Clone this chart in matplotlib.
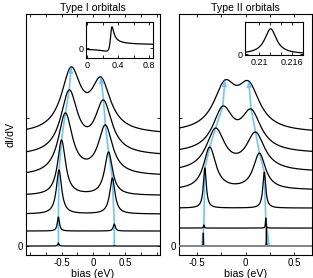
import numpy as np
import matplotlib.pyplot as plt
from matplotlib.ticker import FixedLocator, FixedFormatter

plt.rcParams['font.family'] = ['Liberation Sans', 'DejaVu Sans']

# Each panel: curves listed from the bottom (narrow levels) to the top (broad).
# Two resonances per curve: position (eV), half width (eV), peak height (arb.)
t1_offset = [0, 0.94, 2.0, 3.16, 4.38, 5.63, 6.97]
t1_pos_lo = [-0.55, -0.55, -0.54, -0.50, -0.44, -0.38, -0.35]
t1_pos_hi = [0.33, 0.33, 0.30, 0.24, 0.19, 0.16, 0.12]
t1_width = [0.012, 0.02, 0.05, 0.075, 0.135, 0.16, 0.185]
t1_height_lo = [0.19, 0.875, 2.75, 3.47, 3.94, 4.13, 4.22]
t1_height_hi = [0.02, 0.44, 2.25, 2.72, 3.19, 3.5, 3.59]
t1_blue_start = [-0.55, 0.33]

t2_offset = [0, 1.125, 2.375, 3.5, 4.625, 5.78, 7.06]
t2_pos_lo = [-0.435, -0.43, -0.42, -0.37, -0.31, -0.235, -0.215]
t2_pos_hi = [0.212, 0.205, 0.19, 0.14, 0.10, 0.055, 0.03]
t2_width = [0.0013, 0.004, 0.018, 0.075, 0.115, 0.125, 0.14]
t2_height_lo = [0.81, 0.19, 2.5, 2.69, 2.75, 2.97, 3.31]
t2_height_hi = [1.25, 0.625, 2.25, 2.31, 2.5, 2.78, 3.25]
t2_blue_start = [-0.45, 0.24]

# insets: close up of the lowest curve's resonance
inset1_pos, inset1_width, inset1_q, inset1_step = 0.31, 0.025, 2.5, 0.18
inset2_pos, inset2_width = 0.2121, 0.0013

BLUE = '#74c3f5'


def lorentz(x, pos, width):
    return width**2 / ((np.asarray(x) - pos)**2 + width**2)


def spectrum(x, pos, width, heights):
    # scale both lorentzians so the sum reaches the read heights at the peaks
    cross = lorentz(pos[0], pos[1], width)
    amp = np.linalg.solve([[1, cross], [cross, 1]], heights)
    return amp[0]*lorentz(x, pos[0], width) + amp[1]*lorentz(x, pos[1], width)


def style(ax, size=7):
    ax.tick_params(direction='in', top=True, right=True, length=2.5,
                   width=0.6, labelsize=size, pad=2)
    for s in ax.spines.values():
        s.set_linewidth(0.8)


def draw_panel(ax, xlim, offset, pos_lo, pos_hi, width, h_lo, h_hi, start):
    grid = np.linspace(xlim[0], xlim[1], 3000)
    for i in range(len(offset)):
        pos = [pos_lo[i], pos_hi[i]]
        local = [p + width[i]*np.linspace(-30, 30, 601) for p in pos]
        x = np.sort(np.concatenate([grid] + local))
        x = x[(x >= xlim[0]) & (x <= xlim[1])]
        y = offset[i] + spectrum(x, pos, width[i], [h_lo[i], h_hi[i]])
        ax.plot(x, y, color='k', lw=0.9, zorder=3)
    for j, (pos, h) in enumerate([(pos_lo, h_lo), (pos_hi, h_hi)]):
        bx = [start[j]] + list(pos[1:])
        by = [offset[0]] + [o + hh for o, hh in zip(offset[1:], h[1:])]
        ax.plot(bx, by, color=BLUE, lw=1.2, zorder=2)
        ax.annotate('', xy=(bx[-1], by[-1]), xytext=(bx[-2], by[-2]),
                    arrowprops=dict(arrowstyle='-|>,head_length=0.5,head_width=0.2',
                                    color=BLUE, lw=0, shrinkA=0, shrinkB=0),
                    zorder=5)
    ax.set_xlim(xlim)
    ax.set_ylim(-0.56, 14.5)
    ax.xaxis.set_major_locator(FixedLocator(np.arange(-1.0, 1.01, 0.25)))
    labels = {-0.5: '-0.5', 0.0: '0', 0.5: '0.5'}
    ax.xaxis.set_major_formatter(FixedFormatter(
        [labels.get(round(v, 2), '') for v in np.arange(-1.0, 1.01, 0.25)]))
    ax.set_yticks([0, 8])
    ax.set_yticklabels(['0', ''])
    ax.set_xlabel('bias (eV)', fontsize=7.7, labelpad=1)
    style(ax)


fig = plt.figure(figsize=(3.13, 2.78), dpi=100)
ax1 = fig.add_axes([0.0831, 0.0827, 0.428, 0.867])
ax2 = fig.add_axes([0.5719, 0.0827, 0.425, 0.867])

draw_panel(ax1, (-1.06, 1.05), t1_offset, t1_pos_lo, t1_pos_hi, t1_width,
           t1_height_lo, t1_height_hi, t1_blue_start)
draw_panel(ax2, (-0.685, 0.68), t2_offset, t2_pos_lo, t2_pos_hi, t2_width,
           t2_height_lo, t2_height_hi, t2_blue_start)
ax2.axhline(0, color='0.55', lw=1.3, zorder=4)

ax1.set_title('Type I orbitals', fontsize=7.6, pad=2)
ax2.set_title('Type II orbitals', fontsize=7.6, pad=2)
ax1.set_ylabel('dI/dV', fontsize=7.7, labelpad=2)

# inset 1: Fano-like resonance on a small step
in1 = fig.add_axes([0.2748, 0.790, 0.213, 0.1317])
xf = np.linspace(-0.02, 0.85, 2000)
e = (xf - inset1_pos) / inset1_width
fano = ((inset1_q + e)**2 / (1 + e**2) - 1) / inset1_q**2
fano = fano + inset1_step*(0.5 + np.arctan(e)/np.pi)
in1.plot(xf, fano / fano.max(), color='k', lw=0.9)
in1.set_xlim(-0.017, 0.849)
in1.set_ylim(-0.46, 1.23)
in1.set_xticks([0, 0.2, 0.4, 0.6, 0.8])
in1.set_xticklabels(['0', '', '0.4', '', '0.8'])
in1.set_yticks([0])
in1.set_yticklabels(['0'])
style(in1, 6.5)

# inset 2: single lorentzian
in2 = fig.add_axes([0.783, 0.802, 0.184, 0.12])
xl = np.linspace(0.2074, 0.218, 2000)
in2.plot(xl, lorentz(xl, inset2_pos, inset2_width), color='k', lw=0.9)
in2.set_xlim(0.2074, 0.218)
in2.set_ylim(-0.04, 1.28)
in2.set_xticks([0.21, 0.212, 0.214, 0.216])
in2.set_xticklabels(['0.21', '', '', '0.216'])
in2.set_yticks([0])
in2.set_yticklabels(['0'])
style(in2, 6.5)

fig.savefig('out.png', dpi=100)
